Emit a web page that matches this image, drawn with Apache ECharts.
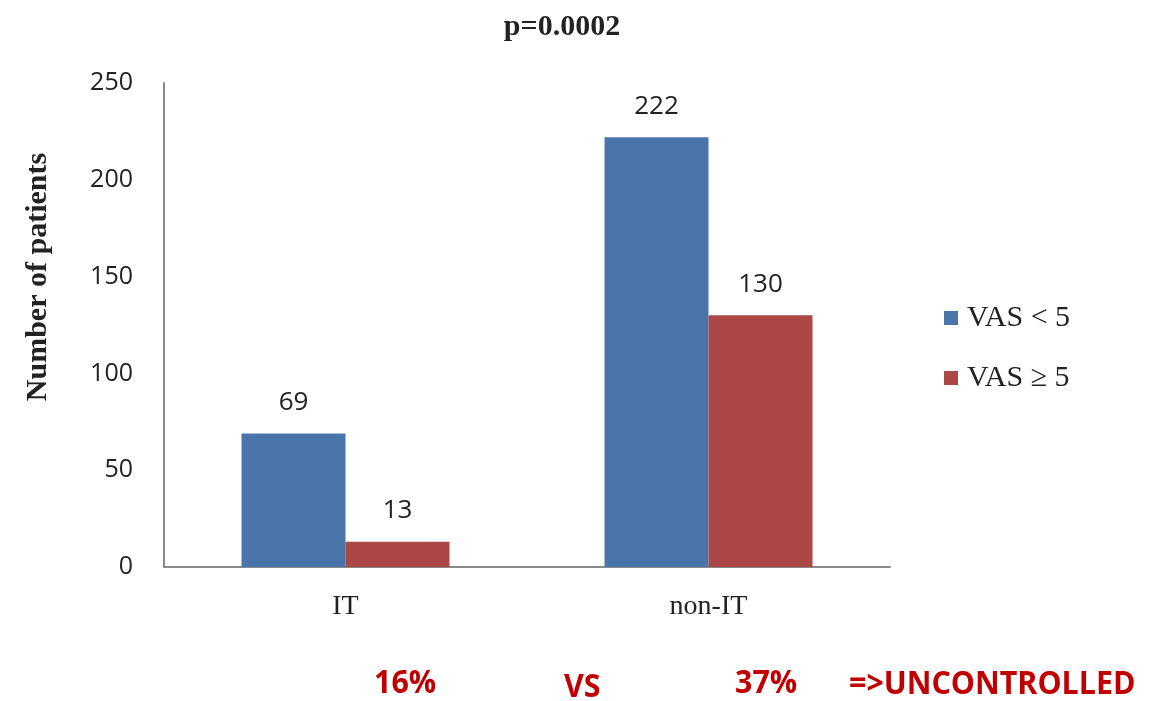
<!DOCTYPE html>
<html>
<head>
<meta charset="utf-8">
<script src="https://cdn.jsdelivr.net/npm/echarts@6/dist/echarts.min.js"></script>
<style>
  html, body { margin: 0; padding: 0; background: #fff; }
  #chart { width: 1169px; height: 701px; }
</style>
</head>
<body>
<div id="chart"></div>
<script>
// Patients grouped by treatment, split by pain score
const categories = ['IT', 'non-IT'];
const seriesNames = ['VAS < 5', 'VAS \u2265 5'];
const vasBelow5 = [69, 222];
const vasAtLeast5 = [13, 130];
const yTicks = [0, 50, 100, 150, 200, 250];
const footnotes = ['16%', 'VS', '37%', '=>UNCONTROLLED'];

const serif = '"Liberation Serif", "DejaVu Serif", serif';
const sans = '"Open Sans", "Liberation Sans", sans-serif';
const colors = ['#4A75AA', '#AB4745'];

const chart = echarts.init(document.getElementById('chart'), null, { renderer: 'canvas' });

const valueLabel = {
  show: true,
  position: 'top',
  distance: 18,
  fontFamily: sans,
  fontSize: 26,
  color: '#222'
};

// footnote anchors (left edge, vertical middle)
const noteX = [374, 564, 735, 849];
const noteY = [684, 688, 684, 685];

chart.setOption({
  animation: false,
  title: {
    text: 'p=0.0002',
    left: 557,
    top: 7,
    textAlign: 'center',
    textStyle: { fontFamily: serif, fontWeight: 'bold', fontSize: 30, color: '#222' }
  },
  color: colors,
  legend: {
    orient: 'vertical',
    left: 944,
    top: 303,
    padding: 0,
    itemWidth: 14,
    itemHeight: 14,
    itemGap: 30,
    icon: 'rect',
    textStyle: { fontFamily: serif, fontSize: 30, color: '#222', padding: [0, 0, 0, 4] },
    data: seriesNames
  },
  grid: { left: 164, right: 279, top: 83, bottom: 134 },
  xAxis: {
    type: 'category',
    data: categories,
    axisLine: { lineStyle: { color: '#8a8a8a', width: 2 } },
    axisTick: { show: false },
    axisLabel: { fontFamily: serif, fontSize: 28, color: '#222', margin: 26 }
  },
  yAxis: {
    type: 'value',
    min: yTicks[0],
    max: yTicks[yTicks.length - 1],
    interval: yTicks[1] - yTicks[0],
    axisLine: { show: true, lineStyle: { color: '#8a8a8a', width: 2 } },
    axisTick: { show: false },
    splitLine: { show: false },
    axisLabel: { fontFamily: sans, fontSize: 25, color: '#222', margin: 31 }
  },
  series: [
    {
      name: seriesNames[0],
      type: 'bar',
      data: vasBelow5,
      barWidth: 104,
      barGap: '0%',
      label: valueLabel
    },
    {
      name: seriesNames[1],
      type: 'bar',
      data: vasAtLeast5,
      barWidth: 104,
      label: valueLabel
    }
  ],
  graphic: [
    {
      // y-axis title
      type: 'text',
      x: 38,
      y: 277,
      rotation: Math.PI / 2,
      style: {
        text: 'Number of patients',
        fontFamily: serif,
        fontWeight: 'bold',
        fontSize: 30,
        fill: '#222',
        align: 'center',
        verticalAlign: 'middle'
      }
    }
  ].concat(footnotes.map((t, i) => ({
    type: 'text',
    x: noteX[i],
    y: noteY[i],
    scaleX: 0.95,
    style: {
      text: t,
      fontFamily: sans,
      fontWeight: 'bold',
      fontSize: 32,
      fill: '#C00000',
      align: 'left',
      verticalAlign: 'middle'
    }
  })))
});
</script>
</body>
</html>
